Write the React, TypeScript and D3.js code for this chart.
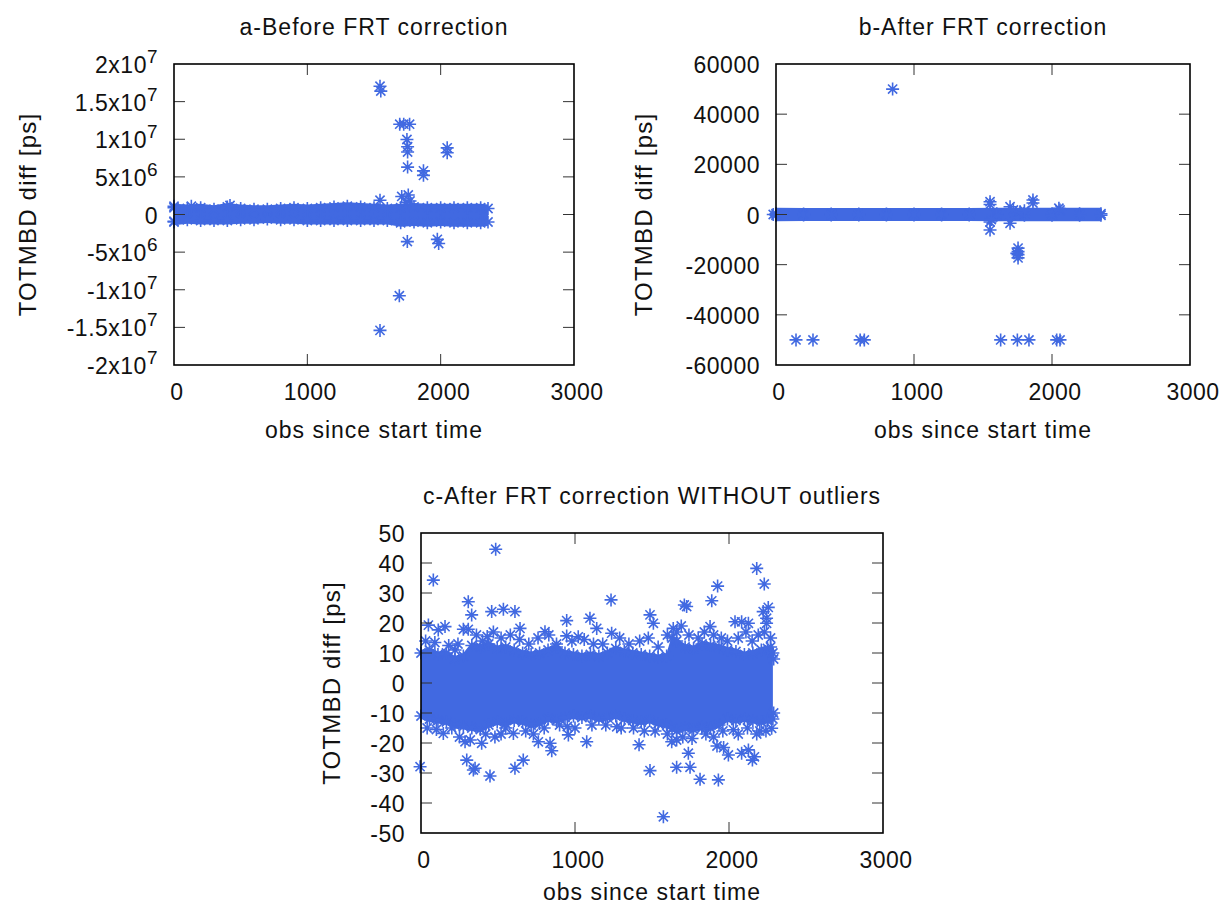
import React from 'react'
import * as d3 from 'd3'

const BLUE = '#4169e1'
const FONT = '"Liberation Sans", Arial, Helvetica, sans-serif'

// shared x axis
const xTicks = [0, 1000, 2000, 3000]

// panel a - before FRT correction
const aYTicks = [-2e7, -1.5e7, -1e7, -5e6, 0, 5e6, 1e7, 1.5e7, 2e7]
const aBandObs = [0, 100, 200, 300, 400, 500, 600, 700, 800, 900, 1000, 1100, 1200, 1300, 1400, 1500, 1600, 1700, 1800, 1900, 2000, 2100, 2200, 2300, 2355]
const aBandHi = [0.9e6, 0.8e6, 0.9e6, 0.7e6, 1.0e6, 0.8e6, 0.7e6, 0.7e6, 0.8e6, 0.9e6, 0.8e6, 0.9e6, 1.0e6, 1.1e6, 1.0e6, 0.9e6, 0.8e6, 0.9e6, 1.0e6, 0.9e6, 0.9e6, 0.9e6, 0.9e6, 0.9e6, 0.8e6]
const aBandLo = [-0.9e6, -0.7e6, -0.8e6, -0.8e6, -0.8e6, -0.7e6, -0.7e6, -0.6e6, -0.7e6, -0.7e6, -0.8e6, -0.8e6, -0.8e6, -0.8e6, -0.8e6, -0.8e6, -0.8e6, -1.1e6, -1.0e6, -1.1e6, -1.0e6, -1.1e6, -1.1e6, -1.1e6, -1.0e6]
const aPoints: [number, number][] = [
  [1545, 17.05e6], [1551, 16.4e6], [1693, 12.0e6], [1723, 12.0e6], [1767, 12.0e6],
  [1747, 9.97e6], [1752, 9.0e6], [1752, 8.3e6], [1752, 6.3e6], [1871, 5.8e6], [1871, 5.2e6],
  [2049, 8.86e6], [2049, 8.2e6], [1750, -3.6e6], [1975, -3.3e6], [1985, -3.85e6],
  [1690, -10.8e6], [1545, -15.4e6], [1545, 1.9e6], [1708, 2.4e6], [1757, 2.6e6],
  [1770, 1.8e6], [1740, 1.6e6], [0, 1.1e6], [0, -1.0e6], [130, 1.1e6], [420, 1.2e6],
]

// panel b - after FRT correction
const bYTicks = [-60000, -40000, -20000, 0, 20000, 40000, 60000]
const bBandObs = [0, 200, 400, 600, 800, 1000, 1200, 1400, 1600, 1800, 2000, 2200, 2355]
const bBandHi = [300, 200, 200, 200, 200, 200, 200, 200, 300, 300, 300, 300, 300]
const bBandLo = [-300, -200, -200, -200, -200, -200, -200, -200, -300, -300, -300, -300, -300]
const bPoints: [number, number][] = [
  [845, 50000], [1551, 5100], [1551, 4000], [1551, -3000], [1551, -6200], [1560, -2000],
  [1696, 3100], [1696, -3500], [1720, 1800], [1768, 1100], [1800, 1500], [1862, 5800], [1862, 4600],
  [2058, 1800], [2050, 2500], [1754, -13400], [1754, -14800], [1745, -15500], [1754, -16000], [1754, -17300],
  [145, -50000], [268, -50000], [610, -50000], [640, -50000], [1628, -50000], [1749, -50000],
  [1833, -50000], [2034, -50000], [2058, -50000], [-20, 0],
]

// panel c - after FRT correction without outliers
const cYTicks = [-50, -40, -30, -20, -10, 0, 10, 20, 30, 40, 50]
const cBandObs = [0, 55, 110, 165, 220, 275, 330, 385, 440, 495, 550, 605, 660, 715, 770, 825, 880, 935, 990, 1045, 1100, 1155, 1210, 1265, 1320, 1375, 1430, 1485, 1540, 1595, 1630, 1660, 1715, 1770, 1825, 1880, 1935, 1990, 2045, 2100, 2155, 2210, 2250, 2285]
const cBandHi = [10, 11, 9.5, 10, 8, 9, 12.5, 12, 13, 11.5, 12, 11, 10, 9.5, 10, 11, 12, 10, 9.5, 9, 9.5, 9, 10, 11.5, 10.5, 10, 9.5, 9, 8.5, 9, 15, 14, 12, 11.5, 13, 12.5, 12, 11, 10.5, 9.5, 10, 11, 11.5, 10]
const cBandLo = [-11, -12, -12.5, -13, -14, -14.5, -15, -15.5, -14, -13, -13.5, -12.5, -13, -14, -13.5, -12, -12.5, -11.5, -11, -11.5, -11, -12, -11.5, -11, -12, -12.5, -13, -12.5, -13.5, -14, -15, -16, -15, -15.5, -14.5, -15, -14, -12, -12.5, -12, -12.5, -13, -12.5, -12]
const cPoints: [number, number][] = [
  [485, 44.6], [80, 34.3], [48, 19.3], [112, 17.7], [156, 18.8], [275, 17.9], [307, 17.9],
  [307, 27.1], [329, 22.7], [459, 23.8], [535, 24.6], [610, 23.8], [643, 18.2], [805, 17.1],
  [946, 20.8], [946, 15.7], [1021, 15.4], [1097, 21.6], [1141, 18.2], [221, 11],
  [-6, -27.9], [297, -25.7], [351, -28.4], [340, -29], [448, -31], [610, -28.4], [664, -25.7],
  [849, -22.6], [838, -20.1], [145, -16.8], [286, -19.6], [394, -20.1], [600, -16.8],
  [762, -19.6], [1076, -19.6], [957, -17.3],
  [2180, 38.2], [2229, 33], [1926, 32.3], [1888, 27.4], [1710, 26], [1725, 25.5], [1234, 27.7],
  [1487, 22.7], [1509, 19.9], [2255, 25.2], [2222, 23.8], [2244, 21.6], [2244, 19.9], [1638, 18.2],
  [1877, 18.8], [2039, 20.4], [2082, 20.4], [2126, 19.9], [1238, 16.6], [1476, 15],
  [1574, -44.6], [1487, -29.2], [1660, -28.1], [1747, -28.1], [1736, -23.4], [1812, -32.1],
  [1931, -32.3], [1416, -20.6], [1922, -21], [1965, -21.5], [1996, -24], [2126, -22.3],
  [2152, -25.7], [2165, -24.6], [2082, -23.4], [1628, -19.6], [1823, -15.1], [2277, -15.1],
  [2028, -15.6], [1271, -14.6],
  [400, 14], [520, 15], [700, 13], [880, 13], [1180, 13], [1350, 13], [1600, 16], [1660, 17],
  [1800, 15], [1950, 15], [2150, 14], [2270, 15], [200, -15], [420, -17], [550, -15], [900, -14],
  [1200, -14], [1380, -15], [1700, -18], [1850, -17], [2200, -16], [2290, -10], [2290, 8],
  [30, 14], [90, 13.5], [180, 12.5], [240, 13], [360, 16], [430, 15.5], [470, 17], [580, 16],
  [640, 14.5], [760, 15], [830, 16], [980, 14], [1060, 14.5], [1120, 13], [1290, 15], [1420, 14],
  [1540, 12], [1690, 19], [1740, 16], [1840, 17], [1900, 16], [1990, 14], [2060, 15], [2110, 17],
  [2190, 16], [2230, 17], [2270, 12],
  [40, -15], [100, -15.5], [250, -18], [320, -19], [480, -18], [520, -17], [680, -16], [730, -17],
  [800, -15], [950, -14.5], [1000, -15], [1110, -14], [1300, -15], [1450, -16], [1520, -16],
  [1600, -17], [1660, -19], [1760, -18.5], [1900, -18], [1960, -16], [2060, -17], [2120, -15],
  [2180, -17], [2240, -16],
]

const STAR = 'M-6.5,0H6.5M0,-6.5V6.5M-4.6,-4.6L4.6,4.6M-4.6,4.6L4.6,-4.6'
const TICK = 11

const sci = (v: number) => {
  if (v === 0) return { m: '0', e: '' }
  const e = Math.floor(Math.log10(Math.abs(v)))
  const m = +(v / Math.pow(10, e)).toFixed(1)
  return { m: `${m}x10`, e: String(e) }
}

interface PanelProps {
  left: number; top: number; width: number; height: number
  yDomain: [number, number]; yTicks: number[]; useSci?: boolean
  bandObs: number[]; bandHi: number[]; bandLo: number[]; pad: number
  points: [number, number][]
  title: string; yLabelX: number; xLabelDy: number
}

const Panel = (p: PanelProps) => {
  const x = d3.scaleLinear().domain([0, 3000]).range([p.left, p.left + p.width])
  const y = d3.scaleLinear().domain(p.yDomain).range([p.top + p.height, p.top])
  const band = p.bandObs.map((o, i) => ({ o, hi: p.bandHi[i], lo: p.bandLo[i] }))
  const area = d3.area<{ o: number; hi: number; lo: number }>()
    .x(d => x(d.o))
    .y0(d => y(d.lo) + p.pad)
    .y1(d => y(d.hi) - p.pad)
  const bottom = p.top + p.height
  const right = p.left + p.width
  const stars: [number, number][] = [
    ...band.map(d => [d.o, d.hi] as [number, number]),
    ...band.map(d => [d.o, d.lo] as [number, number]),
    ...p.points,
  ]

  return (
    <g>
      <path d={area(band) || ''} fill={BLUE} />
      <g stroke={BLUE} strokeWidth={1.6} fill="none">
        {stars.map((d, i) => (
          <path key={i} d={STAR} transform={`translate(${x(d[0])},${y(d[1])})`} />
        ))}
      </g>
      <g stroke="#333" strokeWidth={1}>
        {xTicks.slice(1, -1).map(t => (
          <g key={t}>
            <line x1={x(t)} x2={x(t)} y1={bottom} y2={bottom - TICK} />
            <line x1={x(t)} x2={x(t)} y1={p.top} y2={p.top + TICK} />
          </g>
        ))}
        {p.yTicks.slice(1, -1).map(t => (
          <g key={t}>
            <line x1={p.left} x2={p.left + TICK} y1={y(t)} y2={y(t)} />
            <line x1={right} x2={right - TICK} y1={y(t)} y2={y(t)} />
          </g>
        ))}
      </g>
      <rect x={p.left} y={p.top} width={p.width} height={p.height} fill="none" stroke="#000" strokeWidth={1.6} />
      <g fontFamily={FONT} fontSize={23} fill="#111">
        {xTicks.map(t => (
          <text key={t} x={x(t) + 3} y={bottom + 35} textAnchor="middle" letterSpacing={0.5}>{t}</text>
        ))}
        {p.yTicks.map(t => {
          const lab = p.useSci ? sci(t) : { m: String(t), e: '' }
          return (
            <text key={t} x={p.left - 16} y={y(t) + 9} textAnchor="end" letterSpacing={0.5}>
              {lab.m}
              {lab.e && <tspan dy={-10} fontSize={19}>{lab.e}</tspan>}
            </text>
          )
        })}
        <text x={(p.left + right) / 2} y={p.top - 29} textAnchor="middle" letterSpacing={1}>{p.title}</text>
        <text x={(p.left + right) / 2} y={bottom + p.xLabelDy} textAnchor="middle" letterSpacing={1}>obs since start time</text>
        <text transform={`translate(${p.yLabelX},${p.top + p.height / 2}) rotate(-90)`} textAnchor="middle" fontSize={24} letterSpacing={1.2}>TOTMBD diff [ps]</text>
      </g>
    </g>
  )
}

export default function App() {
  return (
    <svg width={1231} height={908} style={{ position: 'absolute', left: 0, top: 0, background: '#fff' }}>
      <Panel left={174} top={64} width={400} height={301} yDomain={[-2e7, 2e7]} yTicks={aYTicks} useSci
        bandObs={aBandObs} bandHi={aBandHi} bandLo={aBandLo} pad={4} points={aPoints}
        title="a-Before FRT correction" yLabelX={36} xLabelDy={73} />
      <Panel left={776} top={64} width={414} height={301} yDomain={[-60000, 60000]} yTicks={bYTicks}
        bandObs={bBandObs} bandHi={bBandHi} bandLo={bBandLo} pad={6} points={bPoints}
        title="b-After FRT correction" yLabelX={652} xLabelDy={73} />
      <Panel left={421} top={533} width={462} height={300} yDomain={[-50, 50]} yTicks={cYTicks}
        bandObs={cBandObs} bandHi={cBandHi} bandLo={cBandLo} pad={3} points={cPoints}
        title="c-After FRT correction WITHOUT outliers" yLabelX={340} xLabelDy={67} />
    </svg>
  )
}
